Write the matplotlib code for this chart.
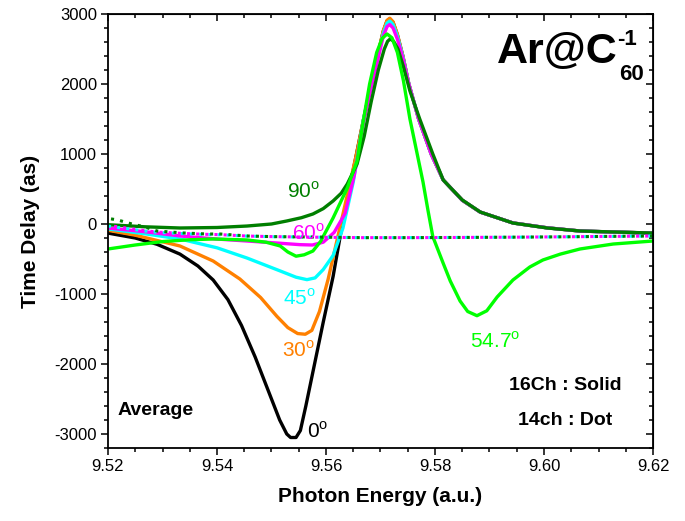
import matplotlib
matplotlib.use('Agg')
import matplotlib.pyplot as plt
from matplotlib.ticker import MultipleLocator

plt.rcParams['font.family'] = ['Liberation Sans', 'DejaVu Sans']
plt.rcParams['mathtext.fontset'] = 'custom'
plt.rcParams['mathtext.rm'] = 'Liberation Sans'
plt.rcParams['mathtext.bf'] = 'Liberation Sans:bold'
plt.rcParams['axes.unicode_minus'] = False

# ---------------- data (16 channel, solid) ----------------
x0 = [9.520, 9.525, 9.529, 9.5332, 9.5365, 9.5393, 9.5420, 9.5445, 9.5470, 9.5494, 9.5515,
      9.5528, 9.5535, 9.5545, 9.5553, 9.5563, 9.5575, 9.5595, 9.5613, 9.5630, 9.5656, 9.5669,
      9.5683, 9.5696, 9.5705, 9.5712, 9.5717, 9.5723, 9.5731, 9.5741, 9.5752, 9.5770, 9.5793,
      9.5815, 9.585, 9.5883, 9.5943, 9.6006, 9.6066, 9.6127, 9.620]
y0 = [-130, -200, -290, -430, -600, -800, -1080, -1450, -1900, -2380, -2800,
      -3000, -3050, -3050, -2950, -2600, -2150, -1400, -750, 0, 1000, 1500,
      2000, 2450, 2750, 2900, 2930, 2880, 2700, 2400, 2000, 1500, 1000,
      630, 340, 170, 15, -55, -100, -115, -130]

x30 = [9.520, 9.525, 9.5332, 9.5393, 9.5442, 9.548, 9.551, 9.553, 9.5548, 9.5562, 9.5574,
       9.5588, 9.5604, 9.5627, 9.5656, 9.5669, 9.5683, 9.5696, 9.5705, 9.5712, 9.5717, 9.5723,
       9.5731, 9.5741, 9.5752, 9.5770, 9.5793, 9.5815, 9.585, 9.5883, 9.5943, 9.6006, 9.6066,
       9.6127, 9.620]
y30 = [-90, -160, -314, -529, -786, -1050, -1320, -1480, -1565, -1575, -1520,
       -1250, -786, 0, 1000, 1500, 2000, 2450, 2760, 2910, 2940, 2890,
       2710, 2400, 2000, 1500, 1000, 630, 340, 170, 15, -55, -100,
       -115, -130]

x45 = [9.520, 9.5268, 9.5332, 9.540, 9.5455, 9.5516, 9.5545, 9.5565, 9.558, 9.5595, 9.5613,
       9.5631, 9.565, 9.5669, 9.5683, 9.5696, 9.5705, 9.5712, 9.5717, 9.5723, 9.5731,
       9.5741, 9.5752, 9.5770, 9.5793, 9.5815, 9.585, 9.5883, 9.5943, 9.6006, 9.6066, 9.6127, 9.620]
y45 = [-70, -140, -214, -340, -486, -671, -760, -795, -770, -650, -450,
       -60, 600, 1500, 2000, 2430, 2720, 2870, 2900, 2850, 2680,
       2390, 2000, 1500, 1000, 630, 340, 170, 15, -55, -100, -115, -130]

x60 = [9.520, 9.5268, 9.5332, 9.540, 9.5455, 9.5516, 9.5552, 9.5575, 9.5595, 9.5615,
       9.5635, 9.5652, 9.5670, 9.5683, 9.5696, 9.5705, 9.5712, 9.5717, 9.5723, 9.5731,
       9.5741, 9.5752, 9.5770, 9.5793, 9.5815, 9.585, 9.5883, 9.5943, 9.6006, 9.6066, 9.6127, 9.620]
y60 = [-57, -110, -171, -215, -243, -275, -295, -300, -260, -120,
       150, 700, 1500, 1950, 2380, 2680, 2820, 2850, 2800, 2640,
       2370, 2000, 1500, 1000, 630, 340, 170, 15, -55, -100, -115, -130]

x90 = [9.520, 9.5268, 9.5332, 9.540, 9.5455, 9.550, 9.5528, 9.5555, 9.5576, 9.5595, 9.5613,
       9.5628, 9.5639, 9.5657, 9.5670, 9.5683, 9.5696, 9.5707, 9.5713, 9.5718, 9.5724, 9.5732,
       9.5742, 9.5754, 9.5772, 9.5796, 9.5815, 9.585, 9.5883, 9.5943, 9.6006, 9.6066, 9.6127, 9.620]
y90 = [-10, -40, -57, -50, -29, 0, 43, 90, 143, 220, 329,
       440, 571, 857, 1250, 1750, 2200, 2500, 2610, 2645, 2610, 2500,
       2250, 1900, 1500, 1000, 629, 343, 171, 14, -57, -100, -114, -129]

x547 = [9.520, 9.525, 9.5301, 9.535, 9.5393, 9.5455, 9.549, 9.5516, 9.553, 9.5545, 9.556,
        9.5576, 9.559, 9.5613, 9.5639, 9.5657, 9.5668, 9.568, 9.5693, 9.5703, 9.5712, 9.5721,
        9.5731, 9.5742, 9.5754, 9.5766, 9.5778, 9.5787, 9.5796, 9.5815, 9.5828, 9.5846, 9.586,
        9.5877, 9.5895, 9.5914, 9.5943, 9.5974, 9.5998, 9.603, 9.6066, 9.6127, 9.620]
y547 = [-357, -300, -250, -225, -214, -228, -260, -314, -400, -460, -440,
        -386, -250, 86, 514, 900, 1450, 2000, 2450, 2650, 2715, 2660,
        2450, 2050, 1500, 1050, 600, 200, -180, -560, -814, -1100, -1250,
        -1310, -1240, -1043, -800, -614, -514, -430, -357, -286, -243]

# ---------------- data (14 channel, dotted) ----------------
xd = [9.520, 9.5218, 9.5244, 9.5268, 9.529, 9.5314, 9.5338, 9.5382, 9.5406, 9.5455, 9.550,
      9.5576, 9.5666, 9.575, 9.585, 9.595, 9.605, 9.620]
yd90 = [80, 57, 0, -43, -100, -114, -128, -143, -143, -171, -180,
        -186, -195, -195, -192, -188, -182, -171]
yd60 = [-20, -40, -70, -95, -115, -125, -135, -148, -152, -172, -180,
        -188, -195, -195, -192, -188, -182, -172]
yd45 = [-30, -50, -75, -100, -118, -128, -138, -150, -154, -173, -181,
        -188, -195, -195, -192, -188, -182, -172]

fig = plt.figure(figsize=(6.85, 5.21), dpi=100)
ax = fig.add_axes([108/685, 73/521, 545/685, 434/521])

lw = 2.4
ax.plot(x0, y0, color='black', lw=lw, solid_joinstyle='round')
ax.plot(x30, y30, color='#ff8000', lw=lw, solid_joinstyle='round')
ax.plot(x45, y45, color='#00ffff', lw=lw, solid_joinstyle='round')
ax.plot(x60, y60, color='#ff00ff', lw=lw, solid_joinstyle='round')
ax.plot(x90, y90, color='#007f00', lw=lw, solid_joinstyle='round')
ax.plot(x547, y547, color='#00ff00', lw=lw, solid_joinstyle='round')

ax.plot(xd, yd45, color='#00ffff', lw=2.2, linestyle=(0, (1.0, 2.0)))
ax.plot(xd, yd60, color='#ff00ff', lw=2.2, linestyle=(1.0, (1.0, 2.0)))
ax.plot(xd, yd90, color='#007f00', lw=2.2, linestyle=(2.0, (1.0, 2.0)))

ax.set_xlim(9.52, 9.62)
ax.set_ylim(-3200, 3000)
ax.xaxis.set_minor_locator(MultipleLocator(0.005))
ax.yaxis.set_major_locator(MultipleLocator(1000))
ax.yaxis.set_minor_locator(MultipleLocator(200))
ax.set_xticks([9.52, 9.54, 9.56, 9.58, 9.60, 9.62])
ax.set_xticklabels(['9.52', '9.54', '9.56', '9.58', '9.60', '9.62'])

ax.tick_params(which='both', direction='out', width=1.1, labelsize=12)
ax.tick_params(which='major', length=5, pad=3)
ax.tick_params(which='minor', length=3)
for s in ax.spines.values():
    s.set_linewidth(1.3)

secx = ax.secondary_xaxis('top')
secx.xaxis.set_major_locator(MultipleLocator(0.02))
secx.xaxis.set_minor_locator(MultipleLocator(0.005))
secx.tick_params(which='both', direction='in', width=1.1, labeltop=False)
secx.tick_params(which='major', length=5)
secx.tick_params(which='minor', length=3)
secy = ax.secondary_yaxis('right')
secy.yaxis.set_major_locator(MultipleLocator(1000))
secy.yaxis.set_minor_locator(MultipleLocator(200))
secy.tick_params(which='both', direction='in', width=1.1, labelright=False)
secy.tick_params(which='major', length=5)
secy.tick_params(which='minor', length=3)

ax.set_xlabel('Photon Energy (a.u.)', fontsize=15, fontweight='bold', labelpad=9)
ax.set_ylabel('Time Delay (as)', fontsize=15, fontweight='bold', labelpad=10)

deg = r'$^{\mathrm{o}}$'
lab_kw = dict(ha='center', va='center', fontsize=15)
ax.text(9.5558, 470, '90' + deg, color='#007f00', **lab_kw)
ax.text(9.5567, -130, '60' + deg, color='#ff00ff', **lab_kw)
ax.text(9.5552, -1060, '45' + deg, color='#00ffff', **lab_kw)
ax.text(9.5549, -1810, '30' + deg, color='#ff8000', **lab_kw)
ax.text(9.5585, -2960, '0' + deg, color='black', **lab_kw)
ax.text(9.5910, -1670, '54.7' + deg, color='#00ff00', **lab_kw)

ax.text(9.5218, -2670, 'Average', ha='left', va='center', fontsize=14, fontweight='bold')
ax.text(9.6039, -2310, '16Ch : Solid', ha='center', va='center', fontsize=14, fontweight='bold')
ax.text(9.6039, -2810, '14ch : Dot', ha='center', va='center', fontsize=14, fontweight='bold')

fig.text(497/685, (521-63)/521, 'Ar@C', fontsize=31, fontweight='bold', ha='left', va='baseline')
fig.text(617/685, (521-45)/521, '-1', fontsize=16, fontweight='bold', ha='left', va='baseline')
fig.text(619/685, (521-80)/521, '60', fontsize=16, fontweight='bold', ha='left', va='baseline')

fig.savefig('out.png', dpi=100)
